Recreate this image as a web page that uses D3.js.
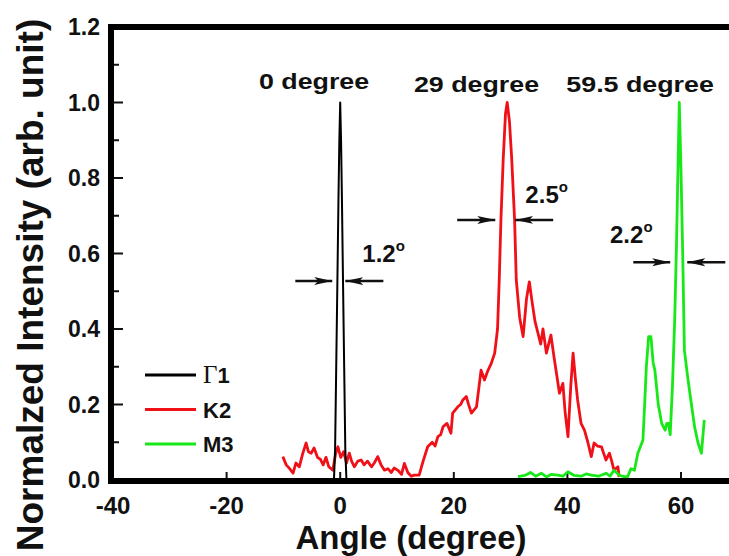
<!DOCTYPE html>
<html>
<head>
<meta charset="utf-8">
<script src="https://d3js.org/d3.v7.min.js"></script>
<style>
  body { margin: 0; background: #fff; }
  text { font-family: "Liberation Sans", Arial, sans-serif; font-weight: bold; fill: #111; }
</style>
</head>
<body>
<div id="my_dataviz"></div>
<script>

// Γ1 scan (black)
var gammaDeg = [-1.1, -0.9, -0.7, -0.5, -0.3, -0.15, 0, 0.15, 0.3, 0.5, 0.7, 0.9, 1.1];
var gammaVal = [0.0, 0.08, 0.3, 0.52, 0.75, 0.9, 1.0, 0.9, 0.75, 0.52, 0.3, 0.08, 0.0];

// K2 scan (red)
var kDeg = [-10.1, -9.5, -8.9, -8.3, -7.8, -7.2, -6.6, -6.0, -5.6, -5.1, -4.6, -4.0, -3.5, -3.0, -2.5, -2.0, -1.3, -0.8, -0.4, 0.1, 0.6, 1.1, 1.6, 2.0, 2.5, 3.1, 3.7, 4.2, 4.8, 5.5, 6.0, 6.6, 7.2, 7.8, 8.4, 9.0, 9.5, 10.2, 10.8, 11.3, 11.9, 12.5, 13.0, 13.9, 14.6, 15.4, 16.2, 16.7, 17.2, 17.7, 18.1, 18.8, 19.5, 19.8, 20.7, 21.2, 21.6, 22.2, 22.6, 23.1, 24.0, 24.8, 25.4, 26.0, 26.6, 27.2, 27.7, 28.0, 28.3, 28.7, 29.1, 29.4, 29.8, 30.2, 30.7, 31.0, 31.6, 32.2, 32.8, 33.3, 33.8, 34.3, 34.8, 35.3, 35.7, 36.3, 36.7, 37.1, 37.6, 38.1, 38.6, 39.2, 39.6, 40.1, 40.6, 41.0, 41.4, 41.8, 42.4, 43.0, 43.6, 44.2, 44.7, 45.3, 46.0, 46.4, 46.8, 47.4, 47.8, 48.2, 48.9, 49.1];
var kVal = [0.062, 0.04, 0.03, 0.018, 0.045, 0.035, 0.07, 0.098, 0.075, 0.071, 0.085, 0.06, 0.055, 0.04, 0.06, 0.035, 0.026, 0.07, 0.088, 0.06, 0.075, 0.045, 0.071, 0.05, 0.035, 0.05, 0.053, 0.04, 0.05, 0.035, 0.045, 0.062, 0.04, 0.026, 0.03, 0.02, 0.032, 0.025, 0.015, 0.044, 0.02, 0.01, 0.013, 0.013, 0.05, 0.088, 0.1, 0.09, 0.115, 0.12, 0.141, 0.15, 0.124, 0.177, 0.194, 0.2, 0.212, 0.221, 0.2, 0.177, 0.194, 0.291, 0.265, 0.29, 0.309, 0.336, 0.4, 0.53, 0.69, 0.85, 0.97, 1.0, 0.95, 0.85, 0.69, 0.53, 0.43, 0.38, 0.48, 0.525, 0.47, 0.42, 0.39, 0.36, 0.4, 0.336, 0.36, 0.384, 0.33, 0.28, 0.23, 0.256, 0.18, 0.115, 0.25, 0.336, 0.27, 0.212, 0.15, 0.132, 0.1, 0.062, 0.098, 0.09, 0.088, 0.07, 0.053, 0.071, 0.05, 0.026, 0.035, 0.008];

// M3 scan (green)
var mDeg = [31.3, 32.5, 33.5, 34.4, 35.4, 36.3, 37.2, 38.3, 39.2, 40.1, 41.2, 42.4, 43.3, 44.2, 45.5, 46.8, 47.5, 48.2, 49.2, 50.0, 50.6, 51.2, 51.8, 52.4, 52.9, 53.3, 53.6, 53.9, 54.3, 54.7, 55.1, 55.4, 56.0, 56.6, 57.2, 57.5, 57.8, 58.1, 58.5, 58.9, 59.2, 59.5, 59.7, 60.0, 60.3, 60.6, 61.2, 61.8, 62.4, 63.0, 63.6, 64.1];
var mVal = [0.009, 0.012, 0.02, 0.01, 0.018, 0.008, 0.015, 0.013, 0.01, 0.022, 0.012, 0.01, 0.016, 0.013, 0.01, 0.018, 0.01, 0.026, 0.012, 0.009, 0.009, 0.03, 0.026, 0.071, 0.09, 0.106, 0.2, 0.3, 0.38, 0.38, 0.31, 0.291, 0.2, 0.15, 0.132, 0.15, 0.15, 0.12, 0.25, 0.43, 0.62, 0.85, 1.0, 0.82, 0.6, 0.344, 0.27, 0.204, 0.14, 0.098, 0.071, 0.159];

var seriesNames = ["Γ1", "K2", "M3"];
var seriesColors = ["#000000", "#f01018", "#18e818"];

var xTicks = [-40, -20, 0, 20, 40, 60];
var yTicks = [0.0, 0.2, 0.4, 0.6, 0.8, 1.0, 1.2];
var yMinor = [0.1, 0.3, 0.5, 0.7, 0.9, 1.1];

// peak labels and FWHM marks, in data units
var peakLabels = [
  {text: "0 degree", x: -4.6, y: 1.036},
  {text: "29 degree", x: 24.0, y: 1.029},
  {text: "59.5 degree", x: 52.8, y: 1.028}
];
var widthLabels = [
  {text: "1.2", x: 3.9, y: 0.577, ay: 0.527, l: [-7.9, -1.4], r: [0.9, 7.6]},
  {text: "2.5", x: 32.6, y: 0.734, ay: 0.689, l: [20.6, 27.3], r: [30.8, 37.5]},
  {text: "2.2", x: 47.5, y: 0.628, ay: 0.577, l: [51.6, 58.1], r: [61.1, 67.8]}
];

var W = 729, H = 556;

var svg = d3.select("#my_dataviz")
  .append("svg")
    .attr("width", W)
    .attr("height", H);

var x = d3.scaleLinear().domain([-40, 60]).range([113, 681]);
var y = d3.scaleLinear().domain([0, 1.2]).range([480, 27]);

// ticks (inward)
svg.append("g")
  .selectAll("line")
  .data(yTicks)
  .enter().append("line")
    .attr("x1", x(-40)).attr("x2", x(-40) + 10)
    .attr("y1", function(d) { return y(d); })
    .attr("y2", function(d) { return y(d); })
    .attr("stroke", "#111").attr("stroke-width", 2);

svg.append("g")
  .selectAll("line")
  .data(yMinor)
  .enter().append("line")
    .attr("x1", x(-40)).attr("x2", x(-40) + 6)
    .attr("y1", function(d) { return y(d); })
    .attr("y2", function(d) { return y(d); })
    .attr("stroke", "#111").attr("stroke-width", 2);

svg.append("g")
  .selectAll("line")
  .data(xTicks)
  .enter().append("line")
    .attr("x1", function(d) { return x(d); })
    .attr("x2", function(d) { return x(d); })
    .attr("y1", y(0)).attr("y2", y(0) - 8)
    .attr("stroke", "#111").attr("stroke-width", 2);

// tick labels
svg.append("g")
  .selectAll("text")
  .data(yTicks)
  .enter().append("text")
    .attr("x", 100)
    .attr("y", function(d) { return y(d) + 8; })
    .attr("text-anchor", "end")
    .style("font-size", "23px")
    .text(function(d) { return d.toFixed(1); });

svg.append("g")
  .selectAll("text")
  .data(xTicks)
  .enter().append("text")
    .attr("x", function(d) { return x(d); })
    .attr("y", 514)
    .attr("text-anchor", "middle")
    .style("font-size", "24px")
    .text(function(d) { return d; });

// axis titles
svg.append("text")
  .attr("x", 411)
  .attr("y", 549)
  .attr("text-anchor", "middle")
  .style("font-size", "33px")
  .text("Angle (degree)");

svg.append("text")
  .attr("transform", "translate(43,285) rotate(-90)")
  .attr("text-anchor", "middle")
  .style("font-size", "37px")
  .text("Normalzed Intensity (arb. unit)");

// curves
var line = d3.line()
  .x(function(d) { return x(d[0]); })
  .y(function(d) { return y(d[1]); });

var curves = [
  d3.zip(gammaDeg, gammaVal),
  d3.zip(kDeg, kVal),
  d3.zip(mDeg, mVal)
];

var plot = svg.append("g");
[1, 2, 0].forEach(function(i) {
  plot.append("path")
    .datum(curves[i])
    .attr("fill", "none")
    .attr("stroke", seriesColors[i])
    .attr("stroke-width", i == 0 ? 2 : 2.8)
    .attr("stroke-linejoin", "round")
    .attr("d", line);
});

// frame
svg.append("path")
  .attr("d", "M" + x(80) + "," + y(1.2) + "H" + (x(-40) - 2) + "V" + (y(0) + 1) + "H" + x(80))
  .attr("fill", "none")
  .attr("stroke", "#000")
  .attr("stroke-width", 6);

// legend
var legend = svg.append("g");
seriesNames.forEach(function(name, i) {
  var ly = 375 + i * 34.5;
  legend.append("line")
    .attr("x1", 145).attr("x2", 196)
    .attr("y1", ly).attr("y2", ly)
    .attr("stroke", seriesColors[i])
    .attr("stroke-width", 3);
  var t = legend.append("text")
    .attr("x", 203)
    .attr("y", ly + 8)
    .style("font-size", "22px");
  if (name.charAt(0) == "Γ") {
    t.append("tspan")
      .style("font-family", "'Liberation Serif', 'Times New Roman', serif")
      .style("font-weight", "normal")
      .style("font-size", "25px")
      .text("Γ");
    t.append("tspan").text(name.slice(1));
  } else {
    t.text(name);
  }
});

// peak labels
svg.append("g")
  .selectAll("text")
  .data(peakLabels)
  .enter().append("text")
    .attr("x", function(d) { return x(d.x); })
    .attr("y", function(d) { return y(d.y); })
    .attr("text-anchor", "middle")
    .attr("transform", function(d) {
      return "translate(" + x(d.x) + "," + y(d.y) + ") scale(1.22,1) translate(" + (-x(d.x)) + "," + (-y(d.y)) + ")";
    })
    .style("font-size", "22px")
    .text(function(d) { return d.text; });

// FWHM labels with arrows
svg.append("defs").append("marker")
  .attr("id", "head")
  .attr("viewBox", "0 0 18 9")
  .attr("refX", 18).attr("refY", 4.5)
  .attr("markerWidth", 18).attr("markerHeight", 9)
  .attr("markerUnits", "userSpaceOnUse")
  .attr("orient", "auto")
  .append("path")
    .attr("d", "M0,0.5 L18,4.5 L0,8.5 L4,4.5 Z")
    .attr("fill", "#111");

widthLabels.forEach(function(d) {
  var t = svg.append("text")
    .attr("x", x(d.x))
    .attr("y", y(d.y))
    .style("font-size", "24px");
  t.append("tspan").text(d.text);
  t.append("tspan")
    .attr("dy", -11)
    .style("font-size", "15px")
    .text("o");

  svg.append("line")
    .attr("x1", x(d.l[0])).attr("x2", x(d.l[1]))
    .attr("y1", y(d.ay)).attr("y2", y(d.ay))
    .attr("stroke", "#111").attr("stroke-width", 2.5)
    .attr("marker-end", "url(#head)");
  svg.append("line")
    .attr("x1", x(d.r[1])).attr("x2", x(d.r[0]))
    .attr("y1", y(d.ay)).attr("y2", y(d.ay))
    .attr("stroke", "#111").attr("stroke-width", 2.5)
    .attr("marker-end", "url(#head)");
});

</script>
</body>
</html>
